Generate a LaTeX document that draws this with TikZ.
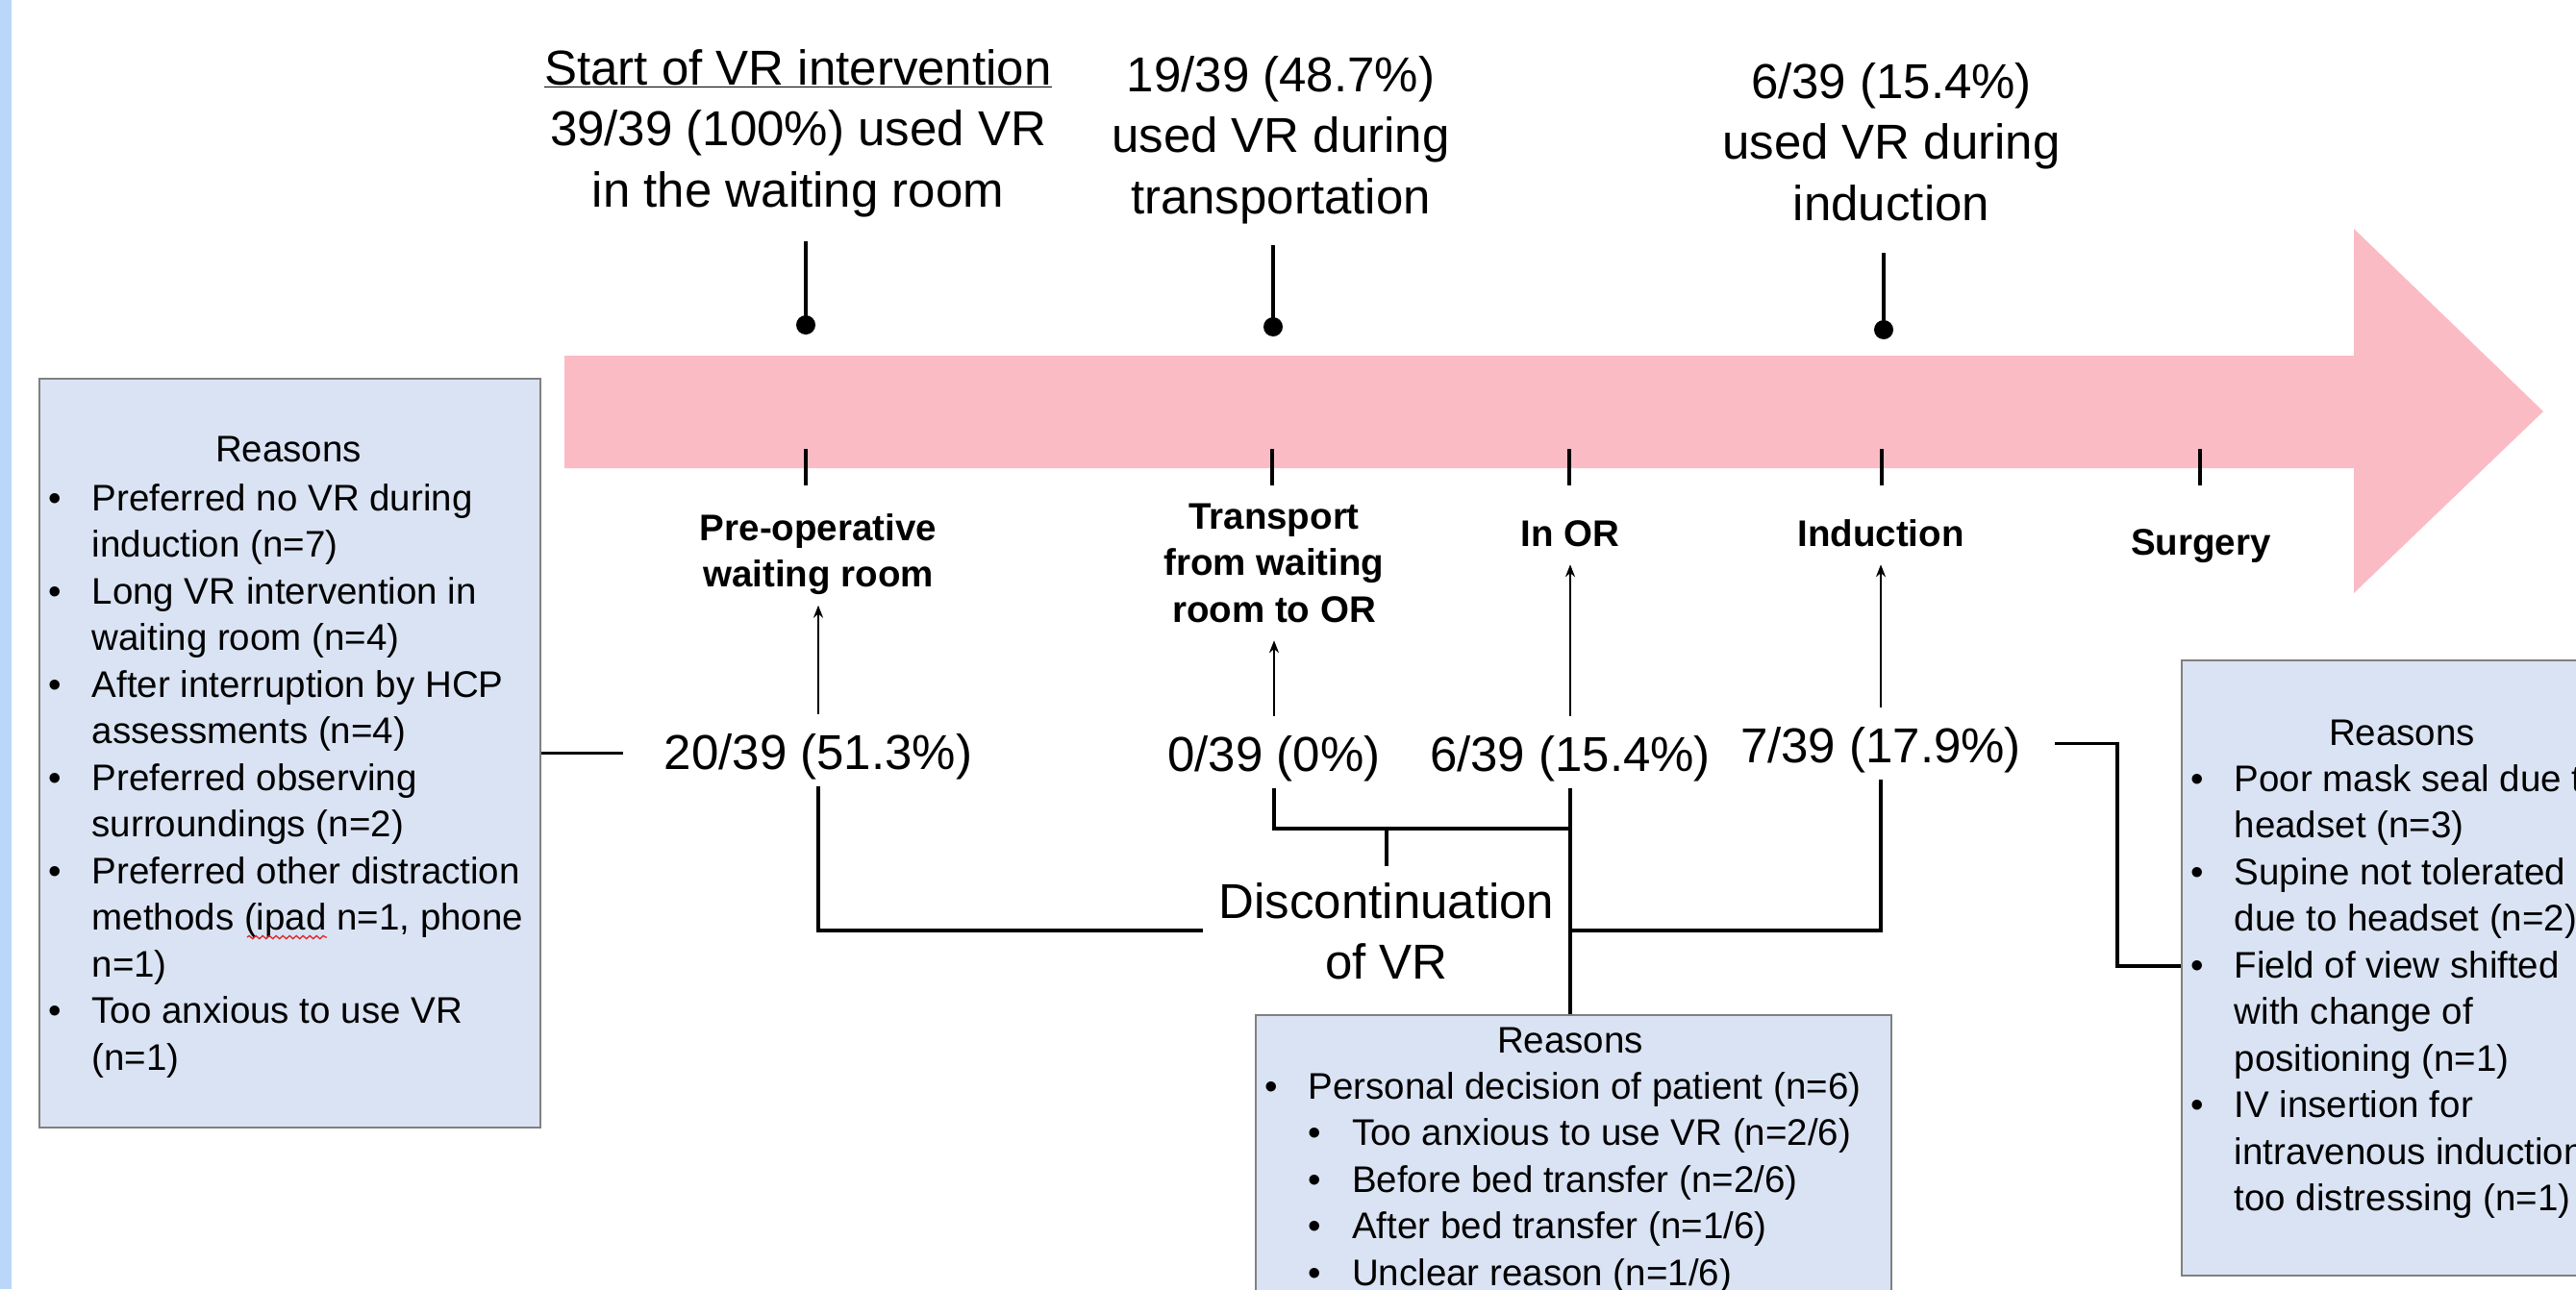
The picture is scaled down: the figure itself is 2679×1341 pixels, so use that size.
\documentclass[tikz,border=0pt]{standalone}
\usepackage{fontspec}
\setmainfont{Liberation Sans}
\usetikzlibrary{arrows.meta,calc,decorations.pathmorphing}
\definecolor{arrowpink}{RGB}{251,187,197}
\definecolor{boxfill}{RGB}{218,227,243}
\definecolor{boxedge}{RGB}{128,128,128}
\definecolor{stripblue}{RGB}{186,215,250}
\definecolor{spellred}{RGB}{220,40,40}
\newcommand{\mlines}[1]{\begin{tabular}[t]{@{}c@{}}#1\end{tabular}}
\newcommand{\bul}{\makebox[45.5pt][l]{•}}
\newcommand{\ind}{\hspace*{45.5pt}}
\begin{document}
\begin{tikzpicture}[x=1pt,y=-1pt,
  toplbl/.style={font=\fontsize{51}{63.5}\selectfont, inner sep=0pt, anchor=base},
  countlbl/.style={font=\fontsize{51}{64}\selectfont, inner sep=0pt, text height=57pt, text depth=18pt, anchor=base},
  phaselbl/.style={font=\fontsize{38.5}{48.5}\selectfont\bfseries, inner sep=4.5pt, anchor=base},
  reasontxt/.style={font=\fontsize{38.5}{48.5}\selectfont, inner sep=0pt, anchor=base west},
  reasonhead/.style={font=\fontsize{38.5}{48.5}\selectfont, inner sep=0pt, anchor=base},
  reasonbox/.style={draw=boxedge, line width=2pt, fill=boxfill, anchor=north west, inner sep=0pt},
  stemline/.style={line width=4pt},
  dotnode/.style={circle, fill=black, inner sep=0pt, minimum size=20pt},
  tickline/.style={line width=4.5pt},
  conn/.style={line width=3.2pt},
  uparr/.style={line width=2.2pt, -{Stealth[length=13pt,width=10pt]}},
  squiggle/.style={draw=spellred, line width=1.3pt, decorate, decoration={snake, segment length=7pt, amplitude=1.6pt}},
]
\path[use as bounding box, fill=white] (0,0) rectangle (2679,1341);
\clip (0,0) rectangle (2679,1341);
\fill[stripblue] (0,0) rectangle (12,1341);

% timeline arrow
\fill[arrowpink] (587,370) -- (2448,370) -- (2448,238) -- (2645,428) -- (2448,617) -- (2448,487) -- (587,487) -- cycle;
\foreach \tx in {838,1323,1632,1957,2288} \draw[tickline] (\tx,467) -- (\tx,505);

% top labels
\node[toplbl] (t1) at (830,88) {\mlines{\underline{Start of VR intervention}\\39/39 (100\%) used VR\\in the waiting room}};
\node[toplbl] (t2) at (1332,95) {\mlines{19/39 (48.7\%)\\used VR during\\transportation}};
\node[toplbl] (t3) at (1967,102) {\mlines{6/39 (15.4\%)\\used VR during\\induction}};

\coordinate (s1) at (838,251);
\coordinate (s2) at (1324,255);
\coordinate (s3) at (1959,263);
\node[dotnode] (d1) at (838,338) {};
\node[dotnode] (d2) at (1324,340) {};
\node[dotnode] (d3) at (1959,343) {};
\draw[stemline] (s1) -- (d1.center);
\draw[stemline] (s2) -- (d2.center);
\draw[stemline] (s3) -- (d3.center);

% phase labels
\node[phaselbl] (p1) at (851,562) {\mlines{Pre-operative\\waiting room}};
\node[phaselbl] (p2) at (1325,550) {\mlines{Transport\\from waiting\\room to OR}};
\node[phaselbl] (p3) at (1633,568) {\mlines{In OR}};
\node[phaselbl] (p4) at (1956,568) {\mlines{Induction}};
\node[phaselbl] (p5) at (2289,577) {\mlines{Surgery}};

% counts
\node[countlbl] (c1) at (851,800) {20/39 (51.3\%)};
\node[countlbl] (c2) at (1325,802) {0/39 (0\%)};
\node[countlbl] (c3) at (1633,802) {6/39 (15.4\%)};
\node[countlbl] (c4) at (1956,793) {7/39 (17.9\%)};

\node[font=\fontsize{51}{63}\selectfont, inner xsep=16pt, inner ysep=10pt, anchor=base] (dn) at (1442,955) {\mlines{Discontinuation\\of VR}};

% reason boxes
\node[reasonbox, minimum width=521pt, minimum height=779pt] (lbox) at (40,393) {};
\node[reasonbox, minimum width=661pt, minimum height=420pt] (mbox) at (1305,1055) {};
\node[reasonbox, minimum width=460pt, minimum height=640pt] (rbox) at (2268,686) {};

\node[reasonhead] (lhead) at (300,480) {Reasons};
\node[reasontxt] (ltxt) at (50,531) {\begin{tabular}[t]{@{}l@{}}
\bul Preferred no VR during\\
\ind induction (n=7)\\
\bul Long VR intervention in\\
\ind waiting room (n=4)\\
\bul After interruption by HCP\\
\ind assessments (n=4)\\
\bul Preferred observing\\
\ind surroundings (n=2)\\
\bul Preferred other distraction\\
\ind methods (ipad n=1, phone\\
\ind n=1)\\
\bul Too anxious to use VR\\
\ind (n=1)
\end{tabular}};
\draw[squiggle] (257,975) -- (340,975);

\node[reasonhead] (mhead) at (1633,1095) {Reasons};
\node[reasontxt] (mtxt) at (1315,1143) {\begin{tabular}[t]{@{}l@{}}
\bul Personal decision of patient (n=6)\\
\ind\bul Too anxious to use VR (n=2/6)\\
\ind\bul Before bed transfer (n=2/6)\\
\ind\bul After bed transfer (n=1/6)\\
\ind\bul Unclear reason (n=1/6)
\end{tabular}};

\node[reasonhead] (rhead) at (2498,775) {Reasons};
\node[reasontxt] (rtxt) at (2278,823) {\begin{tabular}[t]{@{}l@{}}
\bul Poor mask seal due to\\
\ind headset (n=3)\\
\bul Supine not tolerated\\
\ind due to headset (n=2)\\
\bul Field of view shifted\\
\ind with change of\\
\ind positioning (n=1)\\
\bul IV insertion for\\
\ind intravenous induction\\
\ind too distressing (n=1)
\end{tabular}};

% connectors
\coordinate (j2) at (1633,862);
\coordinate (j3) at (1633,968);
\coordinate (r1) at (2202,1005);
\draw[uparr] (c1.north) -- (p1.south);
\draw[uparr] (c2.north) -- (p2.south);
\draw[uparr] (c3.north) -- (p3.south);
\draw[uparr] (c4.north) -- (p4.south);
\draw[conn] (c1.south) |- (dn.west |- j3);
\draw[conn] (c2.south) |- (j2);
\draw[conn] (dn.north) -- (dn.north |- j2);
\draw[conn] (c3.south) -- (c3.south |- mbox.north);
\draw[conn] (c4.south) |- (j3);
\draw[conn] ([xshift=35pt]c4.east) -| (r1) -- (r1 -| rbox.west);
\draw[conn] (lbox.east) -- ([xshift=-43pt]c1.west |- lbox.east);
\end{tikzpicture}
\end{document}
